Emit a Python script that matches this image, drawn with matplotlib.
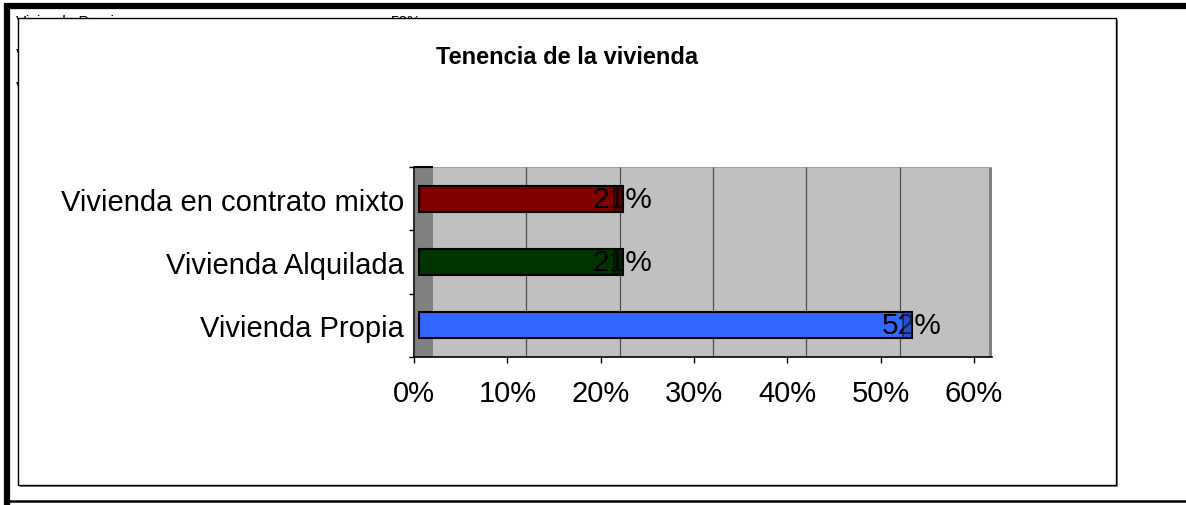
import matplotlib
matplotlib.use("Agg")
import matplotlib.pyplot as plt
import matplotlib.patches as patches

# === Datos ===
categorias = ["Vivienda Propia", "Vivienda Alquilada", "Vivienda en contrato mixto"]
valores = [0.52, 0.21, 0.21]
colores = ["#3366FF", "#003300", "#800000"]
colores_tapa = ["#1f3f9f", "#001a00", "#3a0000"]
ticks_x = [0, 0.1, 0.2, 0.3, 0.4, 0.5, 0.6]
titulo = "Tenencia de la vivienda"

# celdas de la hoja que quedan detras del grafico
texto_fondo = ["Vivienda Propia", "Vivienda Alquilada", "Vivienda en contrato mixto"]

FUENTE = ["Liberation Sans", "DejaVu Sans"]
TAM = 21
W, H = 1186, 506
PX = 933.3          # pixeles por unidad (100%)
PROF = 19 / PX      # desplazamiento 3D de la pared del fondo
INI_BARRA = 5 / PX
FIN_EXTRA = 0.0136

fig = plt.figure(figsize=(W / 100, H / 100), dpi=100)

# === Fondo: hoja de calculo y marco ===
bg = fig.add_axes([0, 0, 1, 1])
bg.set_xlim(0, W)
bg.set_ylim(H, 0)
bg.axis("off")

for i, t in enumerate(texto_fondo):
    bg.text(16, 15 + i * 33, t, fontsize=11, family="Liberation Sans", va="top", ha="left", zorder=1)
bg.text(390, 15, "52%", fontsize=11, family="Liberation Sans", va="top", ha="left", zorder=1)

# caja blanca del grafico con sombra
bg.add_patch(patches.Rectangle((20, 21), 1098, 467, facecolor="#808080", edgecolor="none", zorder=2))
bg.add_patch(patches.Rectangle((18, 19), 1098, 467, facecolor="white", edgecolor="black", lw=1, zorder=3))

# marco negro grueso
bg.plot([4, W], [6.5, 6.5], color="black", lw=4.5, solid_capstyle="butt", zorder=4)
bg.plot([6.5, 6.5], [4, H], color="black", lw=4.5, solid_capstyle="butt", zorder=4)
bg.plot([4, W], [502, 502], color="black", lw=1.8, solid_capstyle="butt", zorder=4)

bg.text(567, 57, titulo, fontsize=17, fontweight="bold", family="Liberation Sans",
        ha="center", va="center", zorder=5)

# === Area del grafico ===
izq, der, arriba, abajo = 414, 992, 168, 358
ax = fig.add_axes([izq / W, 1 - abajo / H, (der - izq) / W, (abajo - arriba) / H])
ax.set_facecolor("none")
xmax = (der - izq) / PX
ax.set_xlim(0, xmax)
ax.set_ylim(-0.5, 2.5)

# paredes 3D
ax.add_patch(patches.Rectangle((PROF, -0.5), xmax - PROF, 3.0,
                               facecolor="#C0C0C0", edgecolor="none", zorder=0))
ax.axvspan(0.001, PROF, color="#808080", zorder=0.5, lw=0)
ax.axvspan(xmax - 3 / PX, xmax, color="#808080", zorder=0.5, lw=0)
ax.hlines(2.5, PROF, xmax, color="#a0a0a0", lw=1.5, zorder=1)
ax.hlines(2.5, 0, PROF, color="black", lw=1.5, zorder=1, clip_on=False)

for t in ticks_x[1:]:
    ax.vlines(t + PROF, -0.5, 2.5, color="#505050", lw=0.9, zorder=1)

# barras
y = range(len(categorias))
anchos = [v + FIN_EXTRA - INI_BARRA for v in valores]
ax.barh(y, anchos, left=INI_BARRA, height=0.41, color=colores, edgecolor="black", lw=1.5, zorder=3)

for i, v in enumerate(valores):
    fin = v + FIN_EXTRA
    ax.text(fin, i, f"{v:.0%}", fontsize=TAM + 0.5, family=FUENTE, ha="center", va="center", zorder=4)
    ax.add_patch(patches.Rectangle((fin - 9 / PX, i - 0.205), 9 / PX, 0.41,
                                   facecolor=colores_tapa[i], edgecolor="black", lw=1.2,
                                   alpha=0.55, zorder=5))

# ejes
for s in ["top", "right"]:
    ax.spines[s].set_visible(False)
ax.spines["left"].set_linewidth(1.2)
ax.spines["bottom"].set_linewidth(1.2)

ax.set_xticks(ticks_x)
ax.set_xticklabels([f"{t:.0%}" for t in ticks_x], fontsize=TAM, family=FUENTE)
ax.tick_params(axis="x", direction="out", length=4, width=1, pad=12)

ax.set_yticks(list(y))
ax.set_yticklabels(categorias, fontsize=TAM, family=FUENTE)
ax.tick_params(axis="y", which="major", length=0, pad=7)
ax.set_yticks([-0.5, 0.5, 1.5, 2.5], minor=True)
ax.tick_params(axis="y", which="minor", direction="out", length=3.5, width=1)

fig.savefig("out.png", dpi=100)
